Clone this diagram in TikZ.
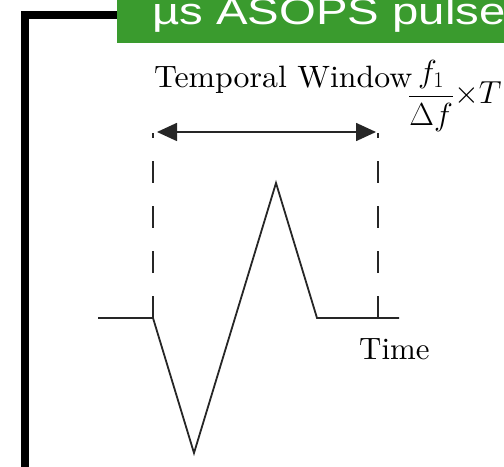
\RequirePackage{fix-cm}
\documentclass[tikz,border=0pt]{standalone}
\usepackage{fontspec}
\usepackage{amsmath}
\usepackage{graphicx}
\usetikzlibrary{arrows.meta}
\newfontfamily\titlefont{Liberation Sans}
\newfontfamily\lmten{lmroman10-regular.otf}
\definecolor{bargreen}{RGB}{58,155,46}
\begin{document}
\begin{tikzpicture}[
    x=1bp, y=-1bp,
    frame/.style={line width=8bp, line join=miter},
    wave/.style={line width=1.8bp, black!85, line join=miter},
    guide/.style={line width=1.8bp, black!85, dash pattern=on 22bp off 23bp},
    span/.style={line width=1.6bp, black!85, {Triangle[length=20bp,width=18bp]}-{Triangle[length=20bp,width=18bp]}},
    label/.style={inner sep=0pt, anchor=base west, font=\lmten\fontsize{31}{36}\selectfont},
  ]
    \useasboundingbox (0,0) rectangle (504,467);
    \clip (0,0) rectangle (504,467);
    % Title bar
    \fill[bargreen] (117,0) rectangle (520,43);
    \node[inner sep=0pt, anchor=base west, text=white, font=\titlefont\fontsize{38}{42}\selectfont] (title) at (152,25) {\scalebox{1.25}[1]{µs ASOPS pulse}};
    % Frame
    \coordinate (fbot) at (25,470);
    \coordinate (fcorner) at (25,15);
    \coordinate (fend) at (117,15);
    \draw[frame] (fbot) -- (fcorner) -- (fend);
    % Pulse shape
    \coordinate (w0) at (98,318);
    \coordinate (w1) at (153,318);
    \coordinate (w2) at (194,453);
    \coordinate (w3) at (276,183);
    \coordinate (w4) at (317,318);
    \coordinate (w5) at (399,318);
    \draw[wave] (w0) -- (w1) -- (w2) -- (w3) -- (w4) -- (w5);
    % Window limits
    \coordinate (lbot) at (153,318);
    \coordinate (ltop) at (153,133);
    \coordinate (rbot) at (378,318);
    \coordinate (rtop) at (378,133);
    \draw[guide] (lbot) -- (ltop);
    \draw[guide] (rbot) -- (rtop);
    \coordinate (la) at (157,132);
    \coordinate (ra) at (376,132);
    \draw[span] (la) -- (ra);
    % Labels
    \node[label] (window) at (154,88) {\scalebox{1.03}[1]{Temporal Window}};
    \node[inner sep=0pt, anchor=base west, font=\fontsize{32}{38}\selectfont] (formula) at (408,104) {$\dfrac{f_1}{\Delta f}{\times}T$};
    \node[label] (time) at (359,359) {Time};
  \end{tikzpicture}
\end{document}
